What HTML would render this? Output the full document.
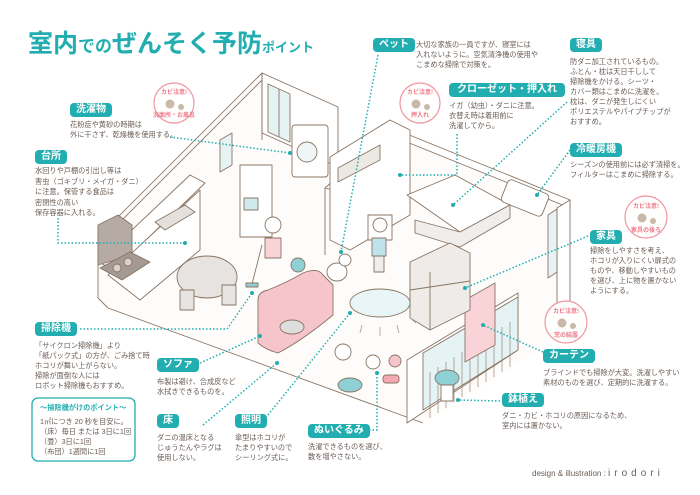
<!DOCTYPE html>
<html><head><meta charset="utf-8"><style>
body{margin:0;width:700px;height:495px;background:#fff;position:relative;overflow:hidden;font-family:"Liberation Sans","Noto Sans CJK JP",sans-serif;color:#6a5c55}
.p{position:absolute;background:#22aeb0;color:#fff;font-weight:bold;font-size:10px;line-height:14px;border-radius:4px;text-align:center;padding:0 6px}
.t{position:absolute;font-size:7.2px;line-height:10px;white-space:nowrap}
svg{position:absolute;left:0;top:0}
</style></head><body>
<svg width="700" height="495">
<g stroke="#8a7462" stroke-width="0.9" fill="none" stroke-linejoin="round">
<polygon points="98,298 108,308 423,423 570,330 570,200 392,128 325,188 338,167 338,107 262,73 98,237" fill="#fdfcfb" stroke="none"/>
<polygon points="98,237 262,73 262,80 98,244" fill="#fff"/>
<line x1="98" y1="237" x2="98" y2="298"/>
<line x1="98" y1="298" x2="108" y2="308"/>
<line x1="108" y1="308" x2="423" y2="423"/>
<polygon points="262,73 338,107 338,167 262,133" fill="#fff"/>
<line x1="262" y1="73" x2="262" y2="140"/>
<polygon points="268,84 290,94 290,142 268,132" fill="#e6f3f5"/>
<line x1="279" y1="89" x2="279" y2="137"/>
<polygon points="325,188 392,128 570,200 570,208 392,136 333,190" fill="#fff"/>
<line x1="325" y1="188" x2="325" y2="255"/>
<line x1="392" y1="128" x2="392" y2="155"/>
<polygon points="570,200 570,330 557,338 557,208" fill="#fff"/>
<polygon points="548,215 557,209 557,272 548,278" fill="#e6f3f5"/>
<polygon points="407,360 518,293 518,350 407,423" fill="#fff"/>
<polygon points="423,353 518,297 518,350 423,410" fill="#e6f3f5"/>
<g stroke="#8a7462" stroke-width="0.6">
<line x1="430" y1="372" x2="430" y2="418"/><line x1="438" y1="367" x2="438" y2="413"/><line x1="446" y1="362" x2="446" y2="408"/><line x1="454" y1="357" x2="454" y2="402"/><line x1="462" y1="352" x2="462" y2="397"/><line x1="470" y1="347" x2="470" y2="392"/><line x1="478" y1="342" x2="478" y2="387"/><line x1="486" y1="337" x2="486" y2="382"/><line x1="494" y1="332" x2="494" y2="377"/><line x1="502" y1="327" x2="502" y2="372"/><line x1="510" y1="322" x2="510" y2="367"/></g>
<polygon points="465,300 495,283 495,345 465,362" fill="#f9d3d7"/>
<polygon points="98,262 190,175 205,183 115,270" fill="#fff"/>
<polygon points="108,275 200,190 200,250 140,300" fill="#fff"/>
<polygon points="98,225 118,215 132,225 132,255 98,265" fill="#b5aba4"/>
<polygon points="100,268 130,252 150,262 122,280" fill="#a49a93"/>
<circle cx="117" cy="268" r="4" fill="#d8d2cc"/><circle cx="128" cy="262" r="4" fill="#d8d2cc"/>
<polygon points="155,222 185,205 195,212 165,230" fill="#e4e0dc"/>
<rect x="292" y="125" width="36" height="52" rx="3" fill="#fff"/>
<circle cx="307" cy="152" r="10" fill="#eef6f8"/>
<rect x="240" y="165" width="32" height="72" fill="#fff"/>
<rect x="244" y="198" width="14" height="12" fill="#cfe8eb"/>
<polygon points="220,140 232,133 232,165 220,172" fill="#e6f3f5"/>
<polygon points="330,157 390,120 410,130 410,215 350,250 330,240" fill="#fff"/>
<polygon points="338,168 380,145 380,160 338,182" fill="#ece8e4"/>
<polygon points="407,195 455,175 510,205 460,232" fill="#fff"/>
<polygon points="415,220 460,232 510,205 510,218 460,247 415,233" fill="#f0eeec"/>
<rect x="503" y="186" width="44" height="24" rx="4" fill="#fff" transform="rotate(22 525 198)"/>
<rect x="368" y="215" width="24" height="25" fill="#fff"/>
<circle cx="380" cy="225" r="7" fill="#fff"/>
<rect x="372" y="238" width="14" height="18" fill="#bfe3ea"/>
<rect x="374" y="256" width="10" height="16" fill="#eee"/>
<circle cx="273" cy="225" r="8" fill="#fff"/>
<rect x="265" y="238" width="16" height="20" fill="#f9d3d7"/>
<line x1="262" y1="245" x2="252" y2="284"/><rect x="246" y="283" width="12" height="4" fill="#8fd0d5"/>
<circle cx="298" cy="265" r="7" fill="#8fd0d5"/>
<ellipse cx="337" cy="272" rx="10" ry="9" fill="#fff"/><circle cx="345" cy="260" r="6" fill="#fff"/>
<polygon points="410,262 450,243 470,253 470,310 430,330 410,318" fill="#eeebe8"/>
<line x1="430" y1="272" x2="430" y2="330"/><line x1="410" y1="290" x2="470" y2="281"/>
<ellipse cx="207" cy="277" rx="30" ry="21" fill="#e6e3e0"/>
<rect x="180" y="290" width="14" height="20" fill="#e6e3e0"/>
<rect x="222" y="285" width="14" height="20" fill="#e6e3e0"/>
<path d="M258,300 q0,-8 10,-10 q20,-8 35,-17 q15,-6 20,2 l10,10 l0,30 q-30,25 -55,38 q-12,-3 -20,-10z" fill="#f6c5cb"/>
<ellipse cx="292" cy="327" rx="12" ry="7" fill="#ddd"/>
<ellipse cx="380" cy="303" rx="30" ry="14" fill="#e9f6f8"/>
<g stroke="#aaa"><line x1="362" y1="325" x2="360" y2="333"/><line x1="380" y1="327" x2="380" y2="336"/><line x1="397" y1="325" x2="399" y2="333"/><line x1="410" y1="318" x2="416" y2="323"/></g>
<circle cx="343" cy="352" r="8" fill="#fff"/>
<ellipse cx="350" cy="385" rx="12" ry="7" fill="#8fd0d5"/>
<circle cx="373" cy="362" r="7" fill="#fff"/>
<circle cx="395" cy="361" r="6" fill="#f6c5cb"/>
<rect x="383" y="375" width="16" height="8" rx="3" fill="#f4a8b2"/>
<ellipse cx="447" cy="378" rx="12" ry="8" fill="#8fd0d5"/>
<rect x="441" y="385" width="12" height="16" fill="#fff"/>
</g>
<g stroke="#22aeb0" stroke-width="1.5" stroke-dasharray="1.5 2" fill="none">
<path d="M170,137 L290,153"/>
<path d="M58,218 L58,243 L185,243"/>
<path d="M80,329 L227,329 L252,293"/>
<path d="M200,363 L260,336"/>
<path d="M203,425 L277,363"/>
<path d="M268,415 L350,313"/>
<path d="M362,430 L377,430 L377,373"/>
<path d="M378,55 L341,252"/>
<path d="M457,134 L457,175 L400,175"/>
<path d="M567,102 L453,205"/>
<path d="M570,150 L537,195"/>
<path d="M588,236 L465,288"/>
<path d="M543,352 L483,325"/>
<path d="M500,401 L458,400"/>
</g>
<g fill="#22aeb0"><circle cx="290" cy="153" r="2"/><circle cx="185" cy="243" r="2"/><circle cx="252" cy="293" r="2"/><circle cx="260" cy="336" r="2"/><circle cx="277" cy="363" r="2"/><circle cx="350" cy="313" r="2"/><circle cx="377" cy="373" r="2"/><circle cx="341" cy="252" r="2"/><circle cx="400" cy="175" r="2"/><circle cx="453" cy="205" r="2"/><circle cx="537" cy="195" r="2"/><circle cx="465" cy="288" r="2"/><circle cx="483" cy="325" r="2"/><circle cx="458" cy="400" r="2"/></g>
<g fill="#fff" stroke="#f0959f" stroke-width="1.2">
<circle cx="174" cy="103" r="20"/><circle cx="420" cy="103" r="20"/><circle cx="646" cy="217" r="21"/><circle cx="566" cy="322" r="21"/></g>
<g font-size="6" fill="#ee7a88" text-anchor="middle" font-weight="bold" font-family="Liberation Sans,Noto Sans CJK JP,sans-serif">
<text x="174" y="94">カビ注意!</text><text x="174" y="117">洗面所・お風呂</text>
<text x="420" y="94">カビ注意!</text><text x="420" y="117">押入れ</text>
<text x="646" y="208">カビ注意!</text><text x="646" y="232">家具の後ろ</text>
<text x="566" y="313">カビ注意!</text><text x="566" y="337">窓の結露</text></g>
<g fill="#c9b9a8"><circle cx="170" cy="104" r="4.5"/><circle cx="181" cy="107" r="3"/><circle cx="416" cy="104" r="4.5"/><circle cx="427" cy="107" r="3"/><circle cx="642" cy="218" r="4.5"/><circle cx="653" cy="221" r="3"/><circle cx="562" cy="323" r="4.5"/><circle cx="573" cy="326" r="3"/></g>
<rect x="32" y="398" width="103" height="63" rx="6" fill="none" stroke="#22aeb0" stroke-width="1.3"/>
</svg>
<div style="position:absolute;left:28px;top:24px;font-size:25px;font-weight:bold;color:#22aeb0;white-space:nowrap">室内<span style="font-size:17px">での</span>ぜんそく予防<span style="font-size:13px">ポイント</span></div>
<div class="p" style="left:373px;top:38px">ペット</div>
<div class="t" style="left:416px;top:40px">大切な家族の一員ですが、寝室には<br>入れないように。空気清浄機の使用や<br>こまめな掃除で対策を。</div>
<div class="p" style="left:570px;top:38px">寝具</div>
<div class="t" style="left:570px;top:57px">防ダニ加工されているもの。<br>ふとん・枕は天日干しして<br>掃除機をかける。シーツ・<br>カバー類はこまめに洗濯を。<br>枕は、ダニが発生しにくい<br>ポリエステルやパイプチップが<br>おすすめ。</div>
<div class="p" style="left:449px;top:83px;padding:0 8px">クローゼット・押入れ</div>
<div class="t" style="left:449px;top:101px">イガ（幼虫）・ダニに注意。<br>衣替え時は着用前に<br>洗濯してから。</div>
<div class="p" style="left:570px;top:143px">冷暖房機</div>
<div class="t" style="left:570px;top:160px">シーズンの使用前には必ず清掃を。<br>フィルターはこまめに掃除する。</div>
<div class="p" style="left:590px;top:230px">家具</div>
<div class="t" style="left:590px;top:246px">掃除をしやすさを考え、<br>ホコリが入りにくい扉式の<br>ものや、移動しやすいもの<br>を選び、上に物を置かない<br>ようにする。</div>
<div class="p" style="left:70px;top:103px">洗濯物</div>
<div class="t" style="left:70px;top:120px">花粉症や黄砂の時期は<br>外に干さず、乾燥機を使用する。</div>
<div class="p" style="left:35px;top:150px">台所</div>
<div class="t" style="left:35px;top:166px;line-height:10.5px">水回りや戸棚の引出し等は<br>害虫（ゴキブリ・メイガ・ダニ）<br>に注意。保管する食品は<br>密閉性の高い<br>保存容器に入れる。</div>
<div class="p" style="left:35px;top:322px">掃除機</div>
<div class="t" style="left:35px;top:341px">「サイクロン掃除機」より<br>「紙パック式」の方が、ごみ捨て時<br>ホコリが舞い上がらない。<br>掃除が面倒な人には<br>ロボット掃除機もおすすめ。</div>
<div class="t" style="left:40px;top:403px;color:#22aeb0;font-weight:bold">〜掃除機がけのポイント〜</div>
<div class="t" style="left:40px;top:417px">1㎡につき 20 秒を目安に。<br>（床）毎日 または 3日に1回<br>（畳）3日に1回<br>（布団）1週間に1回</div>
<div class="p" style="left:157px;top:358px">ソファ</div>
<div class="t" style="left:157px;top:377px">布製は避け、合成皮など<br>水拭きできるものを。</div>
<div class="p" style="left:157px;top:414px">床</div>
<div class="t" style="left:157px;top:433px">ダニの温床となる<br>じゅうたんやラグは<br>使用しない。</div>
<div class="p" style="left:235px;top:414px">照明</div>
<div class="t" style="left:235px;top:433px">傘型はホコリが<br>たまりやすいので<br>シーリング式に。</div>
<div class="p" style="left:308px;top:424px">ぬいぐるみ</div>
<div class="t" style="left:308px;top:442px">洗濯できるものを選び、<br>数を増やさない。</div>
<div class="p" style="left:543px;top:349px">カーテン</div>
<div class="t" style="left:543px;top:368px">ブラインドでも掃除が大変。洗濯しやすい<br>素材のものを選び、定期的に洗濯する。</div>
<div class="p" style="left:502px;top:393px">鉢植え</div>
<div class="t" style="left:502px;top:411px">ダニ・カビ・ホコリの原因になるため、<br>室内には置かない。</div>
<div style="position:absolute;left:532px;top:468px;font-size:8px;white-space:nowrap">design &amp; illustration : <span style="letter-spacing:4px;font-size:10px">irodori</span></div>
</body></html>
